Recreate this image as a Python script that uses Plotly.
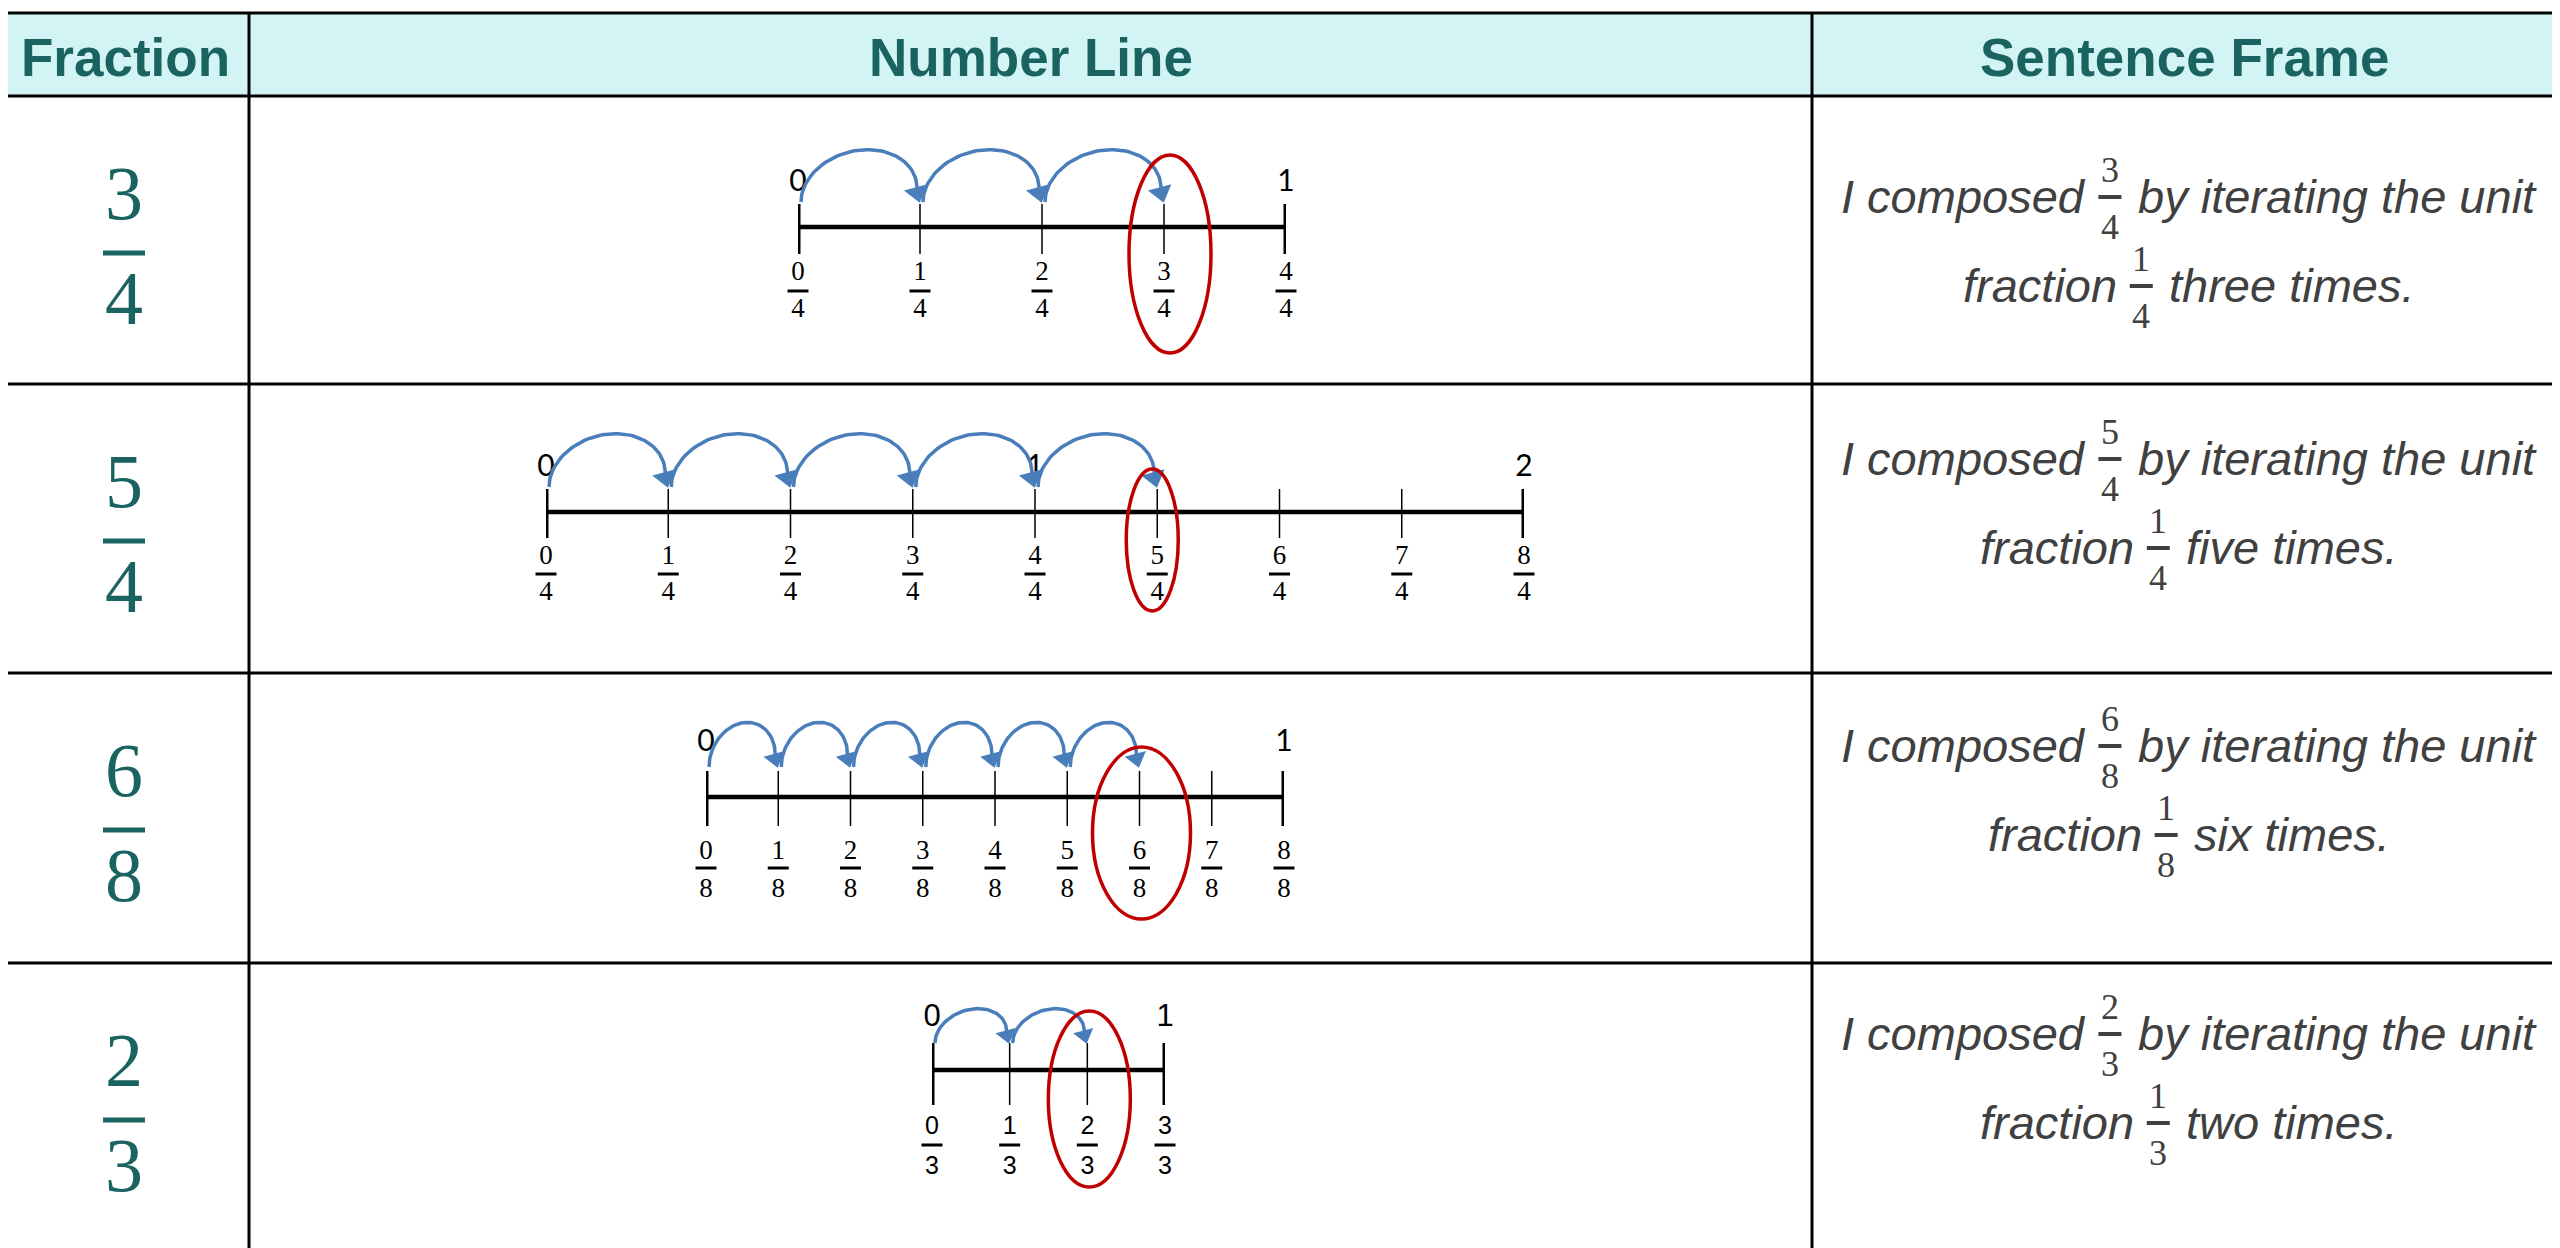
import numpy as np
import plotly.graph_objects as go

# ---- table content ----
headers = ["Fraction", "Number Line", "Sentence Frame"]
numerators = [3, 5, 6, 2]
denominators = [4, 4, 8, 3]
line_wholes = [1, 2, 1, 1]          # each number line runs from 0 to this whole number
count_words = ["three", "five", "six", "two"]
sentence_first = ("I composed", "by iterating the unit")
sentence_second = "fraction"

# ---- page geometry (pixels of the screenshot) ----
W, H = 2560, 1248
PAGE = 8                             # default body margin of the html page
TEAL = "#1A6361"
GREY = "#404040"
BLUE = "#4A7EBB"
RED = "#C00000"
HEAD_BG = "#D3F4F5"

col_x = [1, 249, 1812, 2557]
row_y = [13, 96, 384, 673, 963, 1260]

# where each number line sits, and per-row drawing details
nl_left = [798, 546, 706, 932]
nl_right = [1286, 1524, 1284, 1165]
nl_y = [227, 512, 797, 1070]
nl_style = [
    dict(up=23, dn=27, whole_dy=-44, num_dy=46, bar_dy=64, den_dy=83, arc_dy=-25, arc_h=45,
         arrow=21, ell_dx=6, ell_dy=27, ell_rx=41, ell_ry=99, serif=True),
    dict(up=23, dn=26, whole_dy=-44, num_dy=45, bar_dy=62, den_dy=81, arc_dy=-25, arc_h=46,
         arrow=21, ell_dx=-5, ell_dy=28, ell_rx=26, ell_ry=71, serif=True),
    dict(up=26, dn=29, whole_dy=-54, num_dy=55, bar_dy=71, den_dy=93, arc_dy=-30, arc_h=38,
         arrow=19, ell_dx=2, ell_dy=36, ell_rx=49, ell_ry=86, serif=True),
    dict(up=27, dn=35, whole_dy=-52, num_dy=58, bar_dy=75, den_dy=98, arc_dy=-27, arc_h=28,
         arrow=18, ell_dx=2, ell_dy=29, ell_rx=41, ell_ry=88, serif=False),
]

frame_base = [117, 91, 89, 87]   # first baseline below the row top
frame_gap = 89
frame_center = 2189
FS = 47

# Arial advance widths (per 1000 em) for measuring the sentence pieces
ARIAL = {" ": 278, ".": 278, "I": 278, "a": 556, "b": 556, "c": 500, "d": 556, "e": 556,
         "f": 278, "g": 556, "h": 556, "i": 222, "m": 833, "n": 556, "o": 556, "p": 556,
         "r": 333, "s": 500, "t": 278, "u": 556, "v": 500, "w": 722, "x": 500, "y": 500}


def text_width(s, size):
    return sum(ARIAL.get(ch, 556) for ch in s) * size / 1000


fig = go.Figure()
shapes = []
annotations = []

# ---- table frame ----
shapes.append(dict(type="rect", xref="x", yref="y", x0=col_x[0], x1=col_x[-1], y0=row_y[0], y1=row_y[1],
                   fillcolor=HEAD_BG, line=dict(width=0), layer="below"))
for y in row_y[:-1]:
    shapes.append(dict(type="line", xref="x", yref="y", x0=col_x[0] - 1, x1=col_x[-1] + 2, y0=y, y1=y,
                       line=dict(color="black", width=3)))
for x in col_x:
    shapes.append(dict(type="line", xref="x", yref="y", x0=x, x1=x, y0=row_y[0], y1=H + 5,
                       line=dict(color="black", width=3)))

# header labels
for j, h in enumerate(headers):
    annotations.append(dict(xref="x", yref="y", x=(col_x[j] + col_x[j + 1]) / 2, y=57, text="<b>%s</b>" % h,
                            showarrow=False, xanchor="center", yanchor="middle",
                            font=dict(family="Liberation Sans", size=53, color=TEAL)))


def add_fraction(x, y_num, y_bar, y_den, num, den, size, family, color, bar_w, bar_t):
    annotations.append(dict(xref="x", yref="y", x=x, y=y_num, text=str(num), showarrow=False,
                            xanchor="center", yanchor="middle", font=dict(family=family, size=size, color=color)))
    annotations.append(dict(xref="x", yref="y", x=x, y=y_den, text=str(den), showarrow=False,
                            xanchor="center", yanchor="middle", font=dict(family=family, size=size, color=color)))
    shapes.append(dict(type="line", xref="x", yref="y", x0=x - bar_w / 2, x1=x + bar_w / 2, y0=y_bar, y1=y_bar,
                       line=dict(color=color, width=bar_t)))


for i in range(4):
    top = row_y[i + 1]
    num, den, whole = numerators[i], denominators[i], line_wholes[i]

    # ---- fraction column ----
    add_fraction(124, top + 97, top + 157, top + 202, num, den, 76, "Liberation Serif", TEAL, 42, 5)

    # ---- sentence frame column ----
    lines = [(sentence_first[0], num, den, sentence_first[1]),
             (sentence_second, 1, den, "%s times." % count_words[i])]
    for li, (left, fn, fd, right) in enumerate(lines):
        base = top + frame_base[i] + li * frame_gap
        wl, wr = text_width(left, FS), text_width(right, FS)
        start = frame_center - (wl + 50 + wr) / 2
        fx = start + wl + 23
        cy = base - 0.3465 * FS
        annotations.append(dict(xref="x", yref="y", x=fx - 23, y=cy, text="<i>%s</i>" % left, showarrow=False,
                                xanchor="right", yanchor="middle", borderpad=0,
                                font=dict(family="Liberation Sans", size=FS, color=GREY)))
        annotations.append(dict(xref="x", yref="y", x=fx + 27, y=cy, text="<i>%s</i>" % right, showarrow=False,
                                xanchor="left", yanchor="middle", borderpad=0,
                                font=dict(family="Liberation Sans", size=FS, color=GREY)))
        add_fraction(fx, base - 43, base - 16, base + 14, fn, fd, 36, "Liberation Serif", GREY, 23, 4)

    # ---- number line column ----
    st = nl_style[i]
    ax = "x%d" % (i + 2)
    y0 = nl_y[i]
    ppu = (nl_right[i] - nl_left[i]) / whole
    vals = [k / den for k in range(whole * den + 1)]
    lab_font = "Liberation Serif" if st["serif"] else "Liberation Sans"
    lab_size = 27 if st["serif"] else 25
    whole_font = "Lato" if st["serif"] else "Liberation Sans"
    whole_size = 30 if st["serif"] else 31

    fig.add_trace(go.Scatter(x=[0, whole], y=[y0, y0], xaxis=ax, yaxis="y", mode="lines",
                             line=dict(color="black", width=4.5), cliponaxis=False))
    tx, ty = [], []
    for v in vals[1:-1]:
        tx += [v, v, None]
        ty += [y0 - st["up"], y0 + st["dn"], None]
    fig.add_trace(go.Scatter(x=tx, y=ty, xaxis=ax, yaxis="y", mode="lines",
                             line=dict(color="black", width=1.5), cliponaxis=False))
    ex, ey = [], []
    for v in (0, whole):
        ex += [v, v, None]
        ey += [y0 - st["up"], y0 + st["dn"], None]
    fig.add_trace(go.Scatter(x=ex, y=ey, xaxis=ax, yaxis="y", mode="lines",
                             line=dict(color="black", width=5), cliponaxis=False))

    # whole-number labels above
    fig.add_trace(go.Scatter(x=list(range(whole + 1)), y=[y0 + st["whole_dy"]] * (whole + 1), xaxis=ax, yaxis="y",
                             mode="text", text=[str(k) for k in range(whole + 1)], textposition="middle center",
                             textfont=dict(family=whole_font, size=whole_size, color="black"), cliponaxis=False))
    # fraction labels below
    fig.add_trace(go.Scatter(x=vals, y=[y0 + st["num_dy"]] * len(vals), xaxis=ax, yaxis="y", mode="text",
                             text=[str(k) for k in range(len(vals))], textposition="middle center",
                             textfont=dict(family=lab_font, size=lab_size, color="black"), cliponaxis=False))
    fig.add_trace(go.Scatter(x=vals, y=[y0 + st["den_dy"]] * len(vals), xaxis=ax, yaxis="y", mode="text",
                             text=[str(den)] * len(vals), textposition="middle center",
                             textfont=dict(family=lab_font, size=lab_size, color="black"), cliponaxis=False))
    fig.add_trace(go.Scatter(x=vals, y=[y0 + st["bar_dy"]] * len(vals), xaxis=ax, yaxis="y", mode="markers",
                             marker=dict(symbol="line-ew", size=15, line=dict(color="black", width=3)),
                             cliponaxis=False))

    # jumps of one unit fraction each
    base = y0 + st["arc_dy"]
    size = st["arrow"]
    tip = base + 1
    t = np.linspace(0, np.pi, 60)
    for k in range(num):
        xs = k / den + 3 / ppu
        xe = (k + 1) / den - 3 / ppu
        ye = tip - 0.7 * size
        frac = (1 - np.cos(t)) / 2
        fig.add_trace(go.Scatter(x=xs + (xe - xs) * frac, y=base + (ye - base) * frac - st["arc_h"] * np.sin(t),
                                 xaxis=ax, yaxis="y", mode="lines", line=dict(color=BLUE, width=3.5),
                                 cliponaxis=False))
        fig.add_trace(go.Scatter(x=[xe], y=[tip - size / 2], xaxis=ax, yaxis="y", mode="markers",
                                 marker=dict(symbol="triangle-down", size=size, color=BLUE, angle=-15),
                                 cliponaxis=False))

    # circle around the composed fraction
    shapes.append(dict(type="circle", xref=ax, yref="y", xsizemode="pixel", xanchor=num / den,
                       x0=st["ell_dx"] - st["ell_rx"], x1=st["ell_dx"] + st["ell_rx"],
                       y0=y0 + st["ell_dy"] - st["ell_ry"], y1=y0 + st["ell_dy"] + st["ell_ry"],
                       line=dict(color=RED, width=3.5)))

# the page itself sits PAGE pixels in from the window corner
layout_axes = {}
for i in range(4):
    layout_axes["xaxis%d" % (i + 2)] = dict(domain=[(nl_left[i] - PAGE) / (W - PAGE), (nl_right[i] - PAGE) / (W - PAGE)],
                                            range=[0, line_wholes[i]], anchor="y", visible=False, fixedrange=True)

fig.update_layout(
    width=W - PAGE, height=H - PAGE,
    margin=dict(l=0, r=0, t=0, b=0),
    paper_bgcolor="white", plot_bgcolor="rgba(0,0,0,0)",
    showlegend=False, hovermode=False,
    xaxis=dict(domain=[0, 1], range=[PAGE, W], visible=False, fixedrange=True),
    yaxis=dict(domain=[0, 1], range=[H, PAGE], visible=False, fixedrange=True),
    shapes=shapes, annotations=annotations,
    **layout_axes
)

fig.write_html("out.html")
